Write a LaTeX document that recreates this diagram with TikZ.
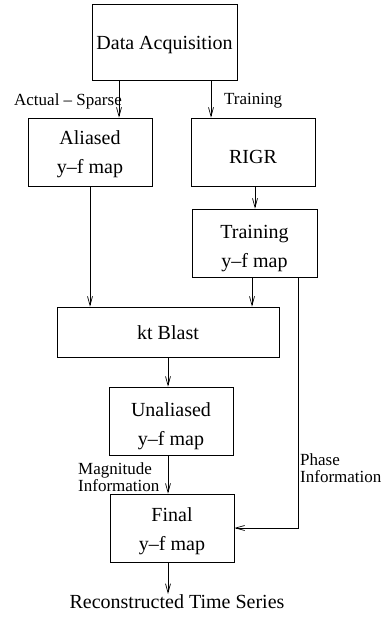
\documentclass[tikz,border=0pt]{standalone}
\usepackage{fontspec}
\setmainfont{Liberation Serif}
\usetikzlibrary{arrows.meta}
\newcommand{\topstrut}[1]{\rule{0pt}{#1}}
\begin{document}
\begin{tikzpicture}[x=1pt,y=-1pt,
  blockbox/.style={draw,line width=0.7pt,align=center,inner sep=0pt,
    font=\fontsize{20}{29}\selectfont},
  smalllabel/.style={inner sep=0pt,align=left,font=\fontsize{17}{17}\selectfont},
  arr/.style={line width=0.7pt,-{Straight Barb[length=9pt,width=5pt]}}]
\useasboundingbox (0,0) rectangle (385,617);
% boxes
\node[blockbox,minimum width=145pt,minimum height=76pt] (daq) at (164.5,42) {\topstrut{20pt}Data Acquisition};
\node[blockbox,minimum width=124pt,minimum height=68pt] (alias) at (90,152) {\topstrut{18pt}Aliased\\y--f map};
\node[blockbox,minimum width=124pt,minimum height=68pt] (rigr) at (253,152) {\topstrut{23pt}RIGR};
\node[blockbox,minimum width=125pt,minimum height=68pt] (train) at (254.5,243) {\topstrut{24pt}Training\\y--f map};
\node[blockbox,minimum width=222pt,minimum height=50pt] (kt) at (168,332) {\topstrut{16pt}kt Blast};
\node[blockbox,minimum width=124pt,minimum height=68pt] (unalias) at (171,421) {\topstrut{25pt}Unaliased\\y--f map};
\node[blockbox,minimum width=124pt,minimum height=68pt] (final) at (172,528) {\topstrut{20pt}Final\\y--f map};
\node[font=\fontsize{20}{24}\selectfont,inner sep=0pt,anchor=north] (rts) at (177,594) {Reconstructed Time Series};
% labels
\node[smalllabel,anchor=east] (sparselbl) at (122,101) {Actual -- Sparse};
\node[smalllabel,anchor=west] (trainlbl) at (224,101) {Training};
\node[smalllabel,anchor=west] (maglbl) at (78,477) {Magnitude\\Information};
\node[smalllabel,anchor=west] (phaselbl) at (300,468) {Phase\\Information};
% connectors
\draw[arr] ([xshift=-45.5pt]daq.south) -- ([xshift=-45.5pt]daq.south |- alias.north);
\draw[arr] ([xshift=46.5pt]daq.south) -- ([xshift=46.5pt]daq.south |- rigr.north);
\draw[arr] ([xshift=2pt]rigr.south) -- ([xshift=2pt]rigr.south |- train.north);
\draw[arr] (alias.south) -- (alias.south |- kt.north);
\draw[arr] ([xshift=-2.5pt]train.south) -- ([xshift=-2.5pt]train.south |- kt.north);
\draw[arr] ([xshift=-19pt]train.south east) |- (final.east);
\draw[arr] (kt.south) -- (kt.south |- unalias.north);
\draw[arr] (kt.south |- unalias.south) -- (kt.south |- final.north);
\draw[arr] (kt.south |- final.south) -- (kt.south |- rts.north);
\end{tikzpicture}
\end{document}
